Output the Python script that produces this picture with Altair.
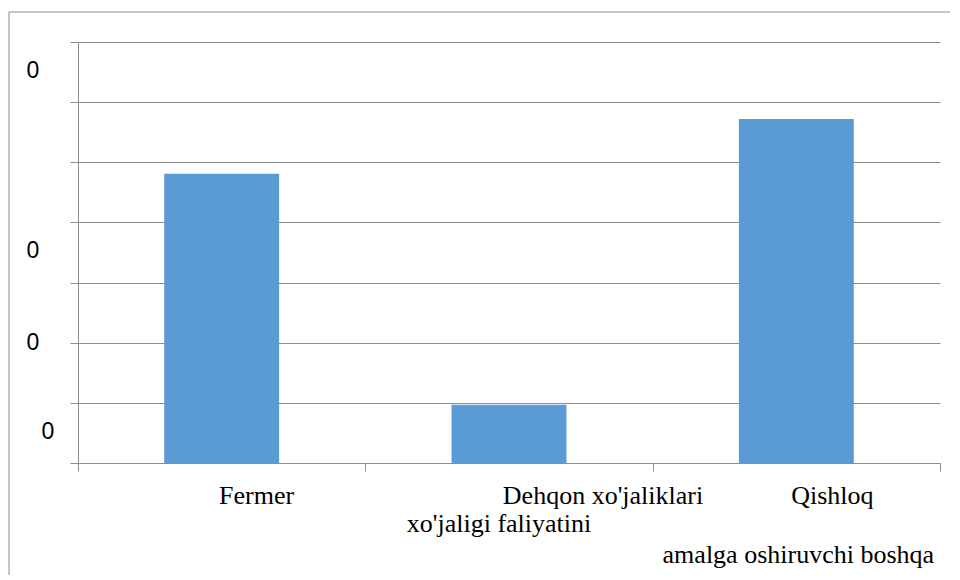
import altair as alt
import pandas as pd

# ---- data ----
categories = ["Fermer", "Dehqon xo'jaliklari", "Qishloq"]
values = [4.81, 0.97, 5.72]
y_ticks = [0, 1, 2, 3, 4, 5, 6, 7]
y_label_values = [6.52, 3.52, 2.0]
y_label_low = [0.51]
y_label_text = "0"

# x-axis label lines (category they hang under, text)
label_fermer = ("Fermer", "Fermer")
label_dehqon = ("Dehqon xo'jaliklari", "Dehqon xo'jaliklari")
label_qishloq = ("Qishloq", "Qishloq")
label_line2 = ("Dehqon xo'jaliklari", "xo'jaligi faliyatini")
label_line3 = ("Qishloq", "amalga oshiruvchi boshqa")

W, H = 862, 421
GRID = "#8c8c8c"
BAR = "#5B9BD5"

df = pd.DataFrame({"cat": categories, "val": values})

xscale = alt.Scale(domain=categories, paddingInner=0, paddingOuter=0)
yscale = alt.Scale(domain=[0, 7], nice=False, zero=True)

bars = alt.Chart(df).mark_bar(color=BAR, width=alt.RelativeBandSize(0.4)).encode(
    x=alt.X("cat:N", sort=categories, scale=xscale,
            axis=alt.Axis(title=None, labels=False, tickBand="extent", tickSize=8,
                          tickColor=GRID, domainColor=GRID, grid=False)),
    y=alt.Y("val:Q", scale=yscale,
            axis=alt.Axis(title=None, labels=False, values=y_ticks, tickSize=8,
                          tickColor=GRID, domainColor=GRID, grid=True,
                          gridColor=GRID, gridOpacity=1)),
)


def xlabel(item, dx, baseline_y, align="center"):
    d = pd.DataFrame({"cat": [item[0]], "t": [item[1]]})
    return alt.Chart(d).mark_text(
        font="Liberation Serif", fontSize=26, color="black",
        align=align, baseline="alphabetic", dx=dx
    ).encode(
        x=alt.X("cat:N", sort=categories, scale=xscale),
        y=alt.value(baseline_y),
        text="t:N",
    )


xl = [
    xlabel(label_fermer, 35, 462),
    xlabel(label_dehqon, 94, 462),
    xlabel(label_qishloq, 36, 462),
    xlabel(label_line2, -10, 490),
    xlabel(label_line3, 2, 521),
]

ydf = pd.DataFrame({"v": y_label_values, "t": [y_label_text] * len(y_label_values)})
ydf2 = pd.DataFrame({"v": y_label_low, "t": [y_label_text] * len(y_label_low)})

ylab = alt.Chart(ydf).mark_text(
    font="Liberation Sans", fontSize=23, color="black", align="center", baseline="middle"
).encode(x=alt.value(-45), y=alt.Y("v:Q", scale=yscale), text="t:N")
ylab2 = alt.Chart(ydf2).mark_text(
    font="Liberation Sans", fontSize=23, color="black", align="center", baseline="middle"
).encode(x=alt.value(-30), y=alt.Y("v:Q", scale=yscale), text="t:N")

frame = pd.DataFrame({"a": [0]})
border_top = alt.Chart(frame).mark_rule(color="#8c8c8c", strokeWidth=1).encode(
    x=alt.value(-69), x2=alt.value(W + 200), y=alt.value(-30))
border_left = alt.Chart(frame).mark_rule(color="#8c8c8c", strokeWidth=1).encode(
    x=alt.value(-69), y=alt.value(-30), y2=alt.value(H + 300))

chart = alt.layer(border_top, border_left, bars, ylab, ylab2, *xl).properties(
    width=W, height=H,
    autosize=alt.AutoSizeParams(type="none"),
    padding={"left": 70, "top": 34, "right": 10, "bottom": 112},
    background="white",
).configure_view(stroke=None)

chart.save("out.html", embed_options={"renderer": "svg", "actions": False})
